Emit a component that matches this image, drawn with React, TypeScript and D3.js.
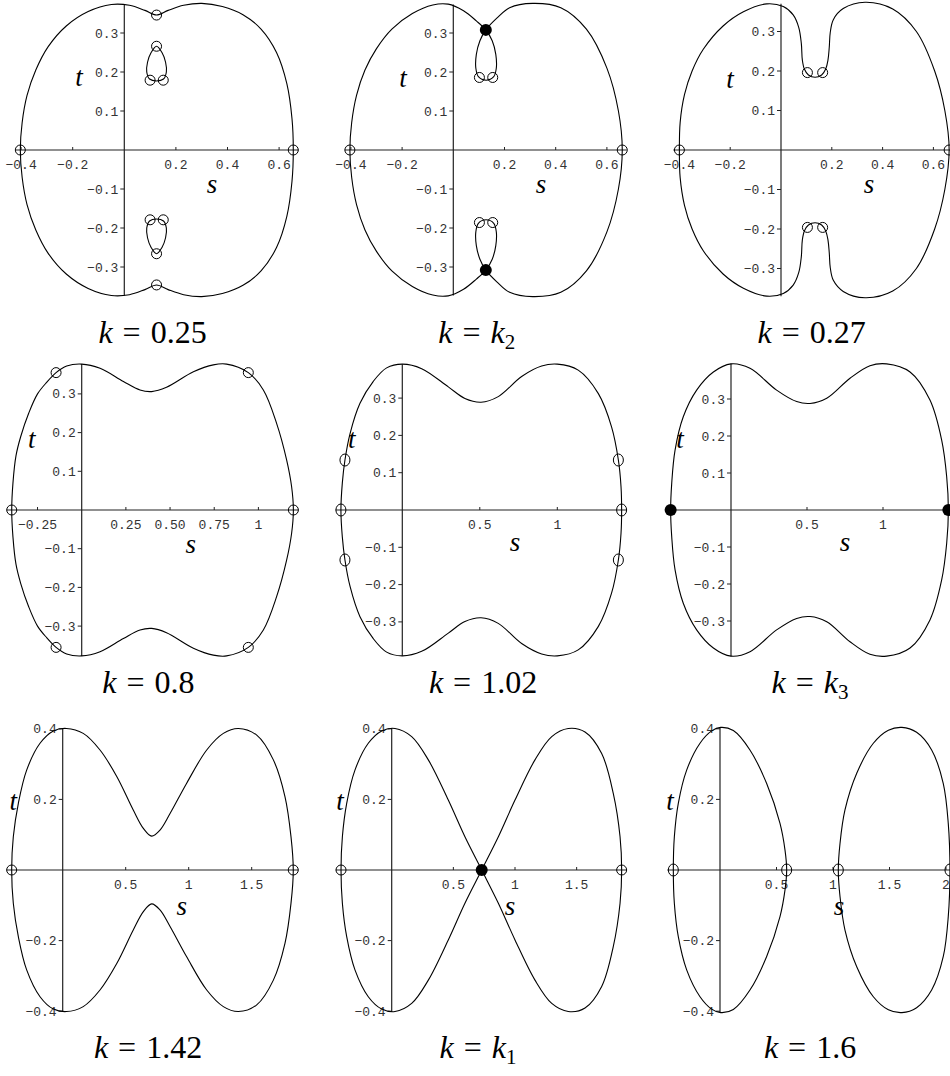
import React from "react";
import * as d3 from "d3";

type Pt = [number, number];

// upper halves (t >= 0) of each level curve; the curves are symmetric in t
const outer025: Pt[] = [
  [-0.403, 0], [-0.396, 0.07], [-0.377, 0.14], [-0.343, 0.205], [-0.295, 0.265], [-0.225, 0.318],
  [-0.14, 0.355], [-0.05, 0.373], [0.02, 0.371], [0.08, 0.358], [0.125, 0.346], [0.17, 0.358],
  [0.23, 0.371], [0.3, 0.376], [0.38, 0.368], [0.46, 0.347], [0.53, 0.31], [0.59, 0.25],
  [0.63, 0.17], [0.65, 0.08], [0.655, 0],
];
const loop025: Pt[] = [
  [0.125, 0.266], [0.146, 0.25], [0.16, 0.225], [0.163, 0.2], [0.152, 0.182], [0.125, 0.177],
  [0.098, 0.182], [0.087, 0.2], [0.09, 0.225], [0.104, 0.25],
];
const outerK2: Pt[] = [
  [-0.404, 0], [-0.397, 0.07], [-0.378, 0.14], [-0.345, 0.205], [-0.3, 0.26], [-0.24, 0.31],
  [-0.16, 0.35], [-0.08, 0.372], [-0.02, 0.374], [0.04, 0.357], [0.09, 0.331], [0.127, 0.308],
  [0.152, 0.28], [0.166, 0.245], [0.168, 0.21], [0.158, 0.188], [0.128, 0.179], [0.098, 0.188],
  [0.088, 0.21], [0.09, 0.245], [0.104, 0.28], [0.127, 0.308], [0.17, 0.338], [0.22, 0.365],
  [0.31, 0.376], [0.42, 0.365], [0.52, 0.31], [0.6, 0.21], [0.645, 0.1], [0.66, 0],
];
const outer027: Pt[] = [
  [-0.4, 0], [-0.397, 0.07], [-0.38, 0.14], [-0.35, 0.2], [-0.306, 0.255], [-0.228, 0.314],
  [-0.148, 0.35], [-0.056, 0.37], [0.009, 0.363], [0.048, 0.342], [0.07, 0.31], [0.08, 0.27],
  [0.084, 0.228], [0.092, 0.205], [0.108, 0.19], [0.134, 0.184], [0.16, 0.19], [0.176, 0.205],
  [0.185, 0.228], [0.19, 0.26], [0.194, 0.298], [0.206, 0.33], [0.245, 0.358], [0.331, 0.374],
  [0.44, 0.357], [0.533, 0.3], [0.605, 0.2], [0.645, 0.1], [0.662, 0],
];
const outer08: Pt[] = [
  [-0.396, 0], [-0.389, 0.07], [-0.372, 0.14], [-0.345, 0.19], [-0.3, 0.25], [-0.25, 0.3],
  [-0.198, 0.33], [-0.145, 0.355], [-0.085, 0.372], [0, 0.377], [0.104, 0.366], [0.236, 0.332],
  [0.33, 0.31], [0.396, 0.306], [0.48, 0.317], [0.632, 0.357], [0.745, 0.375], [0.82, 0.377],
  [0.943, 0.355], [1.028, 0.31], [1.103, 0.224], [1.16, 0.129], [1.188, 0.06], [1.198, 0],
];
const outer102: Pt[] = [
  [-0.396, 0], [-0.387, 0.072], [-0.37, 0.134], [-0.337, 0.205], [-0.273, 0.286], [-0.187, 0.345],
  [-0.101, 0.381], [0, 0.391], [0.125, 0.379], [0.297, 0.33], [0.404, 0.299], [0.508, 0.289],
  [0.619, 0.304], [0.77, 0.358], [0.899, 0.386], [1.0, 0.391], [1.135, 0.375], [1.265, 0.312],
  [1.35, 0.223], [1.394, 0.134], [1.411, 0.063], [1.415, 0],
];
const outerK3: Pt[] = [
  [-0.397, 0], [-0.39, 0.072], [-0.368, 0.162], [-0.314, 0.252], [-0.226, 0.324], [-0.116, 0.373],
  [0, 0.395], [0.125, 0.383], [0.3, 0.324], [0.432, 0.293], [0.52, 0.288], [0.63, 0.302],
  [0.783, 0.356], [0.914, 0.39], [1.024, 0.395], [1.178, 0.373], [1.309, 0.297], [1.386, 0.189],
  [1.419, 0.09], [1.43, 0],
];
const outer142: Pt[] = [
  [-0.405, 0], [-0.392, 0.094], [-0.352, 0.189], [-0.286, 0.283], [-0.18, 0.359], [-0.074, 0.394],
  [0.03, 0.401], [0.163, 0.387], [0.296, 0.34], [0.429, 0.265], [0.56, 0.17], [0.64, 0.118],
  [0.706, 0.096], [0.772, 0.113], [0.852, 0.16], [0.984, 0.246], [1.143, 0.34], [1.275, 0.387],
  [1.394, 0.401], [1.54, 0.382], [1.672, 0.312], [1.764, 0.208], [1.812, 0.094], [1.83, 0],
];
// k = k1: both lobes start at the node on the s axis
const rightK1: Pt[] = [
  [0.73, 0], [0.865, 0.094], [1.0, 0.198], [1.162, 0.312], [1.298, 0.378], [1.432, 0.401],
  [1.568, 0.391], [1.703, 0.33], [1.797, 0.217], [1.852, 0.094], [1.865, 0],
];
const leftK1: Pt[] = [
  [0.73, 0], [0.594, 0.094], [0.459, 0.198], [0.297, 0.312], [0.162, 0.378], [0.027, 0.401],
  [-0.081, 0.394], [-0.19, 0.359], [-0.298, 0.283], [-0.365, 0.189], [-0.4, 0.094], [-0.411, 0],
];
const left16: Pt[] = [
  [-0.413, 0], [-0.404, 0.094], [-0.369, 0.189], [-0.295, 0.283], [-0.177, 0.359], [-0.074, 0.394],
  [0.006, 0.404], [0.118, 0.395], [0.265, 0.34], [0.413, 0.245], [0.531, 0.132], [0.575, 0.057],
  [0.59, 0],
];
const right16: Pt[] = [
  [1.047, 0], [1.062, 0.075], [1.106, 0.17], [1.21, 0.274], [1.357, 0.359], [1.49, 0.396],
  [1.61, 0.404], [1.74, 0.39], [1.873, 0.34], [1.976, 0.245], [2.02, 0.132], [2.035, 0],
];

// marked points (upper half + axis), open or filled
const marks025: Pt[] = [[-0.403, 0], [0.655, 0], [0.125, 0.346], [0.125, 0.266], [0.1, 0.179], [0.151, 0.179]];
const marksK2Open: Pt[] = [[-0.404, 0], [0.66, 0], [0.102, 0.186], [0.154, 0.186]];
const marksK2Dot: Pt[] = [[0.127, 0.308]];
const marks027: Pt[] = [[-0.4, 0], [0.662, 0], [0.104, 0.196], [0.164, 0.196]];
const marks08: Pt[] = [[-0.396, 0], [1.198, 0], [-0.145, 0.355], [0.943, 0.355]];
const marks102: Pt[] = [[-0.396, 0], [1.415, 0], [-0.37, 0.134], [1.394, 0.134]];
const marksK3Dot: Pt[] = [[-0.397, 0], [1.43, 0]];
const marks142: Pt[] = [[-0.405, 0], [1.83, 0]];
const marksK1Open: Pt[] = [[-0.411, 0], [1.865, 0]];
const marksK1Dot: Pt[] = [[0.73, 0]];
const marks16: Pt[] = [[-0.413, 0], [0.59, 0], [1.047, 0], [2.035, 0]];

// ticks
const sTicksA = [-0.4, -0.2, 0.2, 0.4, 0.6];
const sLabelsA = ["−0.4", "−0.2", "0.2", "0.4", "0.6"];
const sTicksB = [-0.25, 0.25, 0.5, 0.75, 1];
const sLabelsB = ["−0.25", "0.25", "0.50", "0.75", "1"];
const sTicksC = [0.5, 1];
const sLabelsC = ["0.5", "1"];
const sTicksD = [0.5, 1, 1.5];
const sLabelsD = ["0.5", "1", "1.5"];
const sTicksE = [0.5, 1, 1.5, 2];
const sLabelsE = ["0.5", "1", "1.5", "2"];
const tTicksA = [0.3, 0.2, 0.1, -0.1, -0.2, -0.3];
const tLabelsA = ["0.3", "0.2", "0.1", "−0.1", "−0.2", "−0.3"];
const tTicksB = [0.4, 0.2, -0.2, -0.4];
const tLabelsB = ["0.4", "0.2", "−0.2", "−0.4"];

const mirrorRev = (a: Pt[]): Pt[] => a.slice().reverse().map(([s, t]) => [s, -t] as Pt);
const closeSym = (u: Pt[]): Pt[] => [...u, ...mirrorRev(u).slice(1, -1)];
const flip = (a: Pt[]): Pt[] => a.map(([s, t]) => [s, -t] as Pt);
const withMirror = (a: Pt[]): Pt[] => [...a, ...flip(a.filter((p) => p[1] !== 0))];
const eight = (r: Pt[], l: Pt[]): Pt[] => [...r, ...mirrorRev(r).slice(1), ...l.slice(1), ...mirrorRev(l).slice(1, -1)];

type Panel = {
  caption: string; sub?: boolean;
  ox: number; oy: number; ks: number; kt: number;
  sAxis: [number, number]; tAxis: [number, number];
  sTicks: number[]; sLabels: string[]; tTicks: number[]; tLabels: string[];
  curves: Pt[][]; open: Pt[]; dots: Pt[]; mry?: number;
  tPos: [number, number]; sPos: [number, number]; cap: [number, number];
};

const panels: Panel[] = [
  { caption: "0.25", ox: 124.3, oy: 150, ks: 258, kt: 390, sAxis: [-0.42, 0.675], tAxis: [-0.374, 0.374],
    sTicks: sTicksA, sLabels: sLabelsA, tTicks: tTicksA, tLabels: tLabelsA,
    curves: [closeSym(outer025), loop025, flip(loop025)], open: withMirror(marks025), dots: [],
    tPos: [79, 78], sPos: [212, 187], cap: [152.5, 343] },
  { caption: "2", sub: true, ox: 453.3, oy: 150, ks: 256, kt: 390, sAxis: [-0.424, 0.677], tAxis: [-0.373, 0.373],
    sTicks: sTicksA, sLabels: sLabelsA, tTicks: tTicksA, tLabels: tLabelsA,
    curves: [closeSym(outerK2)], open: withMirror(marksK2Open), dots: withMirror(marksK2Dot),
    tPos: [403, 79], sPos: [541, 187], cap: [476.7, 343] },
  { caption: "0.27", ox: 781, oy: 150, ks: 254, kt: 395, sAxis: [-0.424, 0.69], tAxis: [-0.37, 0.37],
    sTicks: sTicksA, sLabels: sLabelsA, tTicks: tTicksA, tLabels: tLabelsA,
    curves: [closeSym(outer027)], open: withMirror(marks027), dots: [],
    tPos: [730, 80], sPos: [869, 187], cap: [811.7, 343] },
  { caption: "0.8", ox: 81.7, oy: 510, ks: 176.7, kt: 387, sAxis: [-0.424, 1.226], tAxis: [-0.377, 0.377],
    sTicks: sTicksB, sLabels: sLabelsB, tTicks: tTicksA, tLabels: tLabelsA,
    curves: [closeSym(outer08)], open: withMirror(marks08), dots: [],
    tPos: [31.7, 440], sPos: [190.7, 547], cap: [148.3, 693] },
  { caption: "1.02", ox: 402.3, oy: 510, ks: 155, kt: 373, sAxis: [-0.43, 1.448], tAxis: [-0.391, 0.391],
    sTicks: sTicksC, sLabels: sLabelsC, tTicks: tTicksA, tLabels: tLabelsA,
    curves: [closeSym(outer102)], open: withMirror(marks102), dots: [], mry: 6,
    tPos: [351.7, 440], sPos: [515, 545], cap: [483, 693] },
  { caption: "3", sub: true, ox: 731, oy: 510, ks: 152, kt: 370, sAxis: [-0.434, 1.47], tAxis: [-0.395, 0.395],
    sTicks: sTicksC, sLabels: sLabelsC, tTicks: tTicksA, tLabels: tLabelsA,
    curves: [closeSym(outerK3)], open: [], dots: marksK3Dot,
    tPos: [680, 440], sPos: [845, 545], cap: [810, 693] },
  { caption: "1.42", ox: 62.7, oy: 870, ks: 126, kt: 353, sAxis: [-0.444, 1.87], tAxis: [-0.402, 0.402],
    sTicks: sTicksD, sLabels: sLabelsD, tTicks: tTicksB, tLabels: tLabelsB,
    curves: [closeSym(outer142)], open: marks142, dots: [],
    tPos: [13.3, 802], sPos: [181.7, 909], cap: [148, 1058] },
  { caption: "1", sub: true, ox: 391.7, oy: 870, ks: 123.3, kt: 353, sAxis: [-0.454, 1.906], tAxis: [-0.402, 0.402],
    sTicks: sTicksD, sLabels: sLabelsD, tTicks: tTicksB, tLabels: tLabelsB,
    curves: [eight(rightK1, leftK1)], open: marksK1Open, dots: marksK1Dot,
    tPos: [340, 802], sPos: [510, 909], cap: [478, 1058] },
  { caption: "1.6", ox: 720, oy: 870, ks: 113, kt: 353, sAxis: [-0.466, 2.1], tAxis: [-0.404, 0.404],
    sTicks: sTicksE, sLabels: sLabelsE, tTicks: tTicksB, tLabels: tLabelsB,
    curves: [closeSym(left16), closeSym(right16)], open: marks16, dots: [], mry: 6,
    tPos: [670, 802], sPos: [839, 909], cap: [810, 1058] },
];

const tickFont = "Liberation Mono, DejaVu Sans Mono, monospace";
const serif = "Liberation Serif, DejaVu Serif, serif";

function PanelView({ p }: { p: Panel }) {
  const x = d3.scaleLinear().domain([0, 1]).range([p.ox, p.ox + p.ks]);
  const y = d3.scaleLinear().domain([0, 1]).range([p.oy, p.oy - p.kt]);
  const line = d3
    .line<Pt>()
    .x((d) => x(d[0]))
    .y((d) => y(d[1]))
    .curve(d3.curveCatmullRomClosed.alpha(0.5));
  const ry = p.mry ?? 5;
  return (
    <g>
      {/* axes */}
      <line x1={x(p.sAxis[0])} x2={x(p.sAxis[1])} y1={y(0)} y2={y(0)} stroke="#222" strokeWidth={1.2} />
      <line x1={x(0)} x2={x(0)} y1={y(p.tAxis[1])} y2={y(p.tAxis[0])} stroke="#222" strokeWidth={1.2} />
      {p.sTicks.map((v, i) => (
        <g key={"s" + i}>
          <line x1={x(v)} x2={x(v)} y1={y(0)} y2={y(0) - 3} stroke="#222" strokeWidth={1} />
          <text x={x(v)} y={y(0) + 19} textAnchor="middle" style={{ fontFamily: tickFont }} fontSize={13} fill="#333">
            {p.sLabels[i]}
          </text>
        </g>
      ))}
      {p.tTicks.map((v, i) => (
        <g key={"t" + i}>
          <line x1={x(0) - 4} x2={x(0)} y1={y(v)} y2={y(v)} stroke="#222" strokeWidth={1} />
          <text x={x(0) - 6} y={y(v) + 4.5} textAnchor="end" style={{ fontFamily: tickFont }} fontSize={13} fill="#333">
            {p.tLabels[i]}
          </text>
        </g>
      ))}
      {/* level curves */}
      {p.curves.map((c, i) => (
        <path key={"c" + i} d={line(c) ?? ""} fill="none" stroke="#000" strokeWidth={1.1} />
      ))}
      {p.open.map((m, i) => (
        <ellipse key={"o" + i} cx={x(m[0])} cy={y(m[1])} rx={5} ry={ry} fill="none" stroke="#000" strokeWidth={1} />
      ))}
      {p.dots.map((m, i) => (
        <circle key={"d" + i} cx={x(m[0])} cy={y(m[1])} r={6} fill="#000" />
      ))}
      <text x={p.tPos[0]} y={p.tPos[1] + 8} textAnchor="middle" style={{ fontFamily: serif, fontStyle: "italic" }} fontSize={27}>t</text>
      <text x={p.sPos[0]} y={p.sPos[1] + 6} textAnchor="middle" style={{ fontFamily: serif, fontStyle: "italic" }} fontSize={27}>s</text>
      <text x={p.cap[0]} y={p.cap[1]} textAnchor="middle" style={{ fontFamily: serif }} fontSize={32}>
        <tspan style={{ fontStyle: "italic" }}>k</tspan>
        <tspan dx={10}>=</tspan>
        {p.sub ? (
          <>
            <tspan dx={10} style={{ fontStyle: "italic" }}>k</tspan>
            <tspan fontSize={21} dy={6}>{p.caption}</tspan>
          </>
        ) : (
          <tspan dx={10}>{p.caption}</tspan>
        )}
      </text>
    </g>
  );
}

export default function App() {
  return (
    <svg
      width={950}
      height={1076}
      style={{ position: "absolute", left: 0, top: 0, background: "#fff" }}
    >
      {panels.map((p, i) => (
        <PanelView key={i} p={p} />
      ))}
    </svg>
  );
}
